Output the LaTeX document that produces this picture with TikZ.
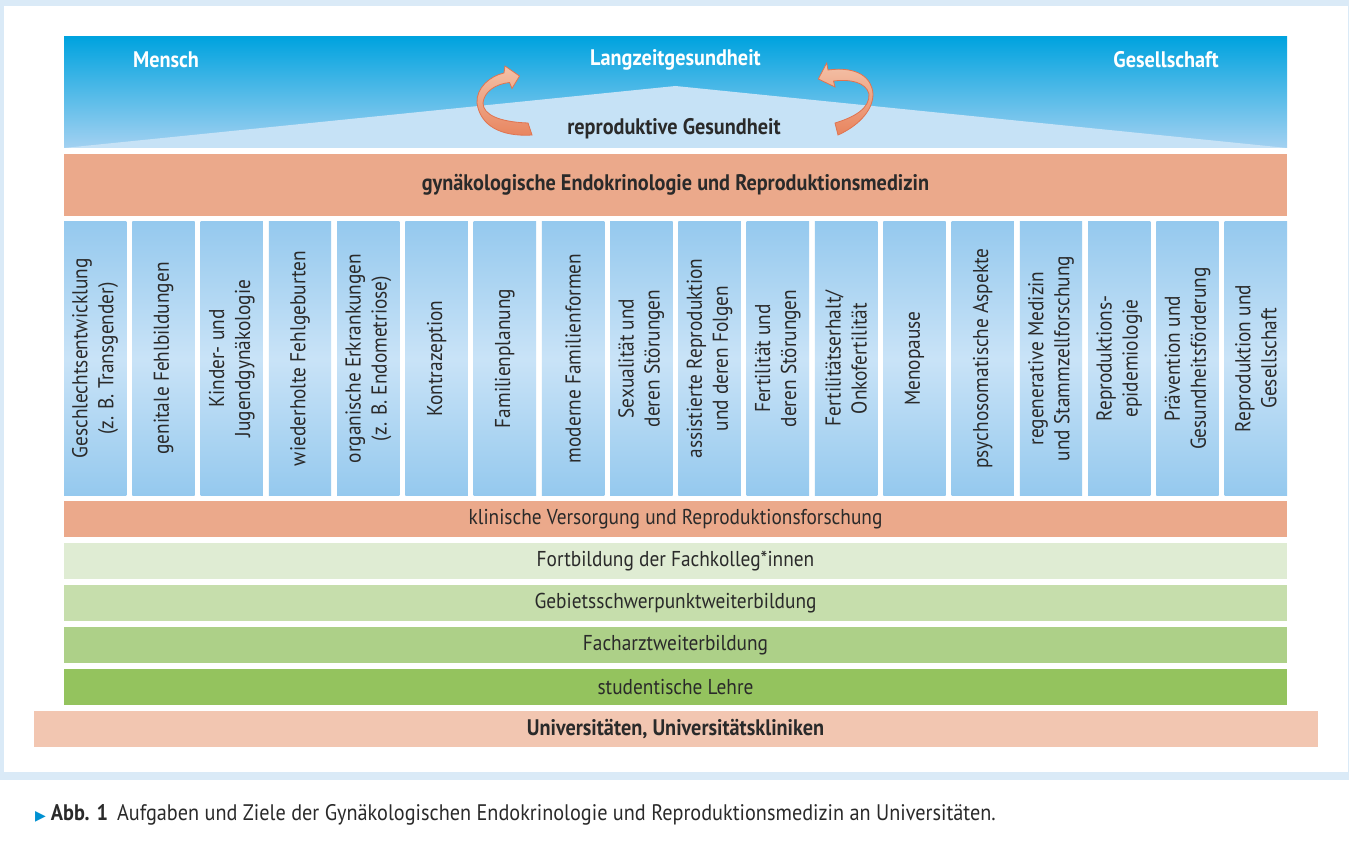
\documentclass[tikz,border=0pt]{standalone}
\usepackage{fontspec}
\setmainfont{PT Sans}[FakeStretch=0.9]
\newfontfamily\symfont{DejaVu Sans}
\usetikzlibrary{positioning}
\definecolor{framebl}{HTML}{DAEAF7}
\definecolor{rooftop}{HTML}{00A3DF}
\definecolor{roofbot}{HTML}{A3D1F1}
\definecolor{roofpale}{HTML}{C6E2F6}
\definecolor{pillaredge}{HTML}{95C9EE}
\definecolor{pillarmid}{HTML}{C9E3F7}
\definecolor{salmon}{HTML}{EBA98B}
\definecolor{unicol}{HTML}{F2C6B1}
\definecolor{fortcol}{HTML}{DFECD3}
\definecolor{gebietcol}{HTML}{C6DEAC}
\definecolor{facharztcol}{HTML}{ADD088}
\definecolor{lehrecol}{HTML}{94C35E}
\definecolor{arrowlight}{HTML}{F4C2A8}
\definecolor{arrowdark}{HTML}{E8845E}
\definecolor{arrowline}{HTML}{E07450}
\definecolor{textgray}{HTML}{2A2A2A}
\definecolor{capblue}{HTML}{0091D2}
\newcommand\labelfont{\fontsize{21.5}{26}\selectfont}
\newcommand\boldlabelfont{\fontsize{22.5}{26}\selectfont\bfseries}

\begin{document}
\begin{tikzpicture}[
  x=1pt,y=1pt,
  band/.style = {minimum width=1223pt,minimum height=36pt,inner sep=0pt,
    text=textgray,font=\labelfont},
  pillar/.style = {rotate=90,minimum width=273pt,minimum height=62.4pt,
    inner sep=0pt,align=center,text=textgray,font=\labelfont,
    top color=pillaredge,bottom color=pillaredge,middle color=pillarmid},
  rooflabel/.style = {white,font=\boldlabelfont},
  cyclearrow/.style = {draw=arrowline,line width=0.8pt,
    top color=arrowlight,bottom color=arrowdark}
  ]
  % frame
  \fill[white] (0,0) rectangle (1349,-845);
  \fill[framebl] (0,0) rectangle (1349,-780);
  \fill[white] (4,-6) rectangle (1347.5,-772);
  % roof
  \path[top color=rooftop,bottom color=roofbot] (64,-37) rectangle (1287,-148);
  \fill[roofpale] (64,-148) -- (675.5,-86) -- (1287,-148) -- cycle;
  \node[rooflabel] (mensch) at (166,-60) {Mensch};
  \node[rooflabel] (langzeit) at (675.5,-60) {Langzeitgesundheit};
  \node[rooflabel] (gesell) at (1166,-60) {Gesellschaft};
  \node[text=textgray,font=\boldlabelfont] (repro) at (674,-129) {reproduktive Gesundheit};
  % arrows
  \path[cyclearrow] (528,-123) -- (532,-135) .. controls (500,-137) and (480,-125) .. (477,-103)
    .. controls (476,-88) and (490,-76) .. (504,-73) -- (505,-66) -- (519.5,-76) -- (512,-88.5)
    -- (509.5,-82.5) .. controls (495,-84) and (484,-92) .. (483,-103)
    .. controls (483,-115) and (500,-122) .. (528,-123) -- cycle;
  \path[cyclearrow] (838,-135) .. controls (856,-127) and (873,-112) .. (873,-94)
    .. controls (872,-78) and (858,-66) .. (828,-70) -- (826.7,-63) -- (818.3,-79) -- (835,-87)
    -- (833.5,-81) .. controls (850,-79) and (866,-82) .. (869,-94)
    .. controls (870,-108) and (855,-117) .. (835,-123) -- cycle;
  % main band
  \node[band,fill=salmon,minimum height=62pt,font=\boldlabelfont] (gyn) at (675.5,-185)
    {gynäkologische Endokrinologie und Reproduktionsmedizin};
  % pillars
  \foreach \lbl [count=\i] in {
    {Geschlechtsentwicklung\\(z. B. Transgender)}, {genitale Fehlbildungen},
    {Kinder- und\\Jugendgynäkologie}, {wiederholte Fehlgeburten},
    {organische Erkrankungen\\(z. B. Endometriose)}, {Kontrazeption},
    {Familienplanung}, {moderne Familienformen},
    {Sexualität und\\deren Störungen}, {assistierte Reproduktion\\und deren Folgen},
    {Fertilität und\\deren Störungen}, {Fertilitätserhalt/\\Onkofertilität},
    {Menopause}, {psychosomatische Aspekte},
    {regenerative Medizin\\und Stammzellforschung}, {Reproduktions-\\epidemiologie},
    {Prävention und\\Gesundheitsförderung}, {Reproduktion und\\Gesellschaft}}
    \node[pillar] (p\i) at ({95.2+(\i-1)*68.27},-358.5) {\lbl};
  % bands
  \node[band,fill=salmon] (klinik) at (675.5,-519) {klinische Versorgung und Reproduktionsforschung};
  \node[band,fill=fortcol,below=5.6pt of klinik] (fort) {Fortbildung der Fachkolleg*innen};
  \node[band,fill=gebietcol,below=5.6pt of fort] (gebiet) {Gebietsschwerpunktweiterbildung};
  \node[band,fill=facharztcol,below=5.6pt of gebiet] (facharzt) {Facharztweiterbildung};
  \node[band,fill=lehrecol,below=5.6pt of facharzt] (lehre) {studentische Lehre};
  \node[band,fill=unicol,minimum width=1284pt,below=5.6pt of lehre,font=\boldlabelfont] (uni)
    {Universitäten, Universitätskliniken};
  % caption
  \node[anchor=west,inner sep=0pt,text=textgray,font=\fontsize{22.5}{26}\selectfont] (cap) at (35,-815)
    {{\symfont\fontsize{14}{14}\selectfont\textcolor{capblue}{▶}}\hspace{5pt}\textbf{Abb. 1}\hspace{9pt}Aufgaben und Ziele der Gynäkologischen Endokrinologie und Reproduktionsmedizin an Universitäten.};
\end{tikzpicture}
\end{document}
